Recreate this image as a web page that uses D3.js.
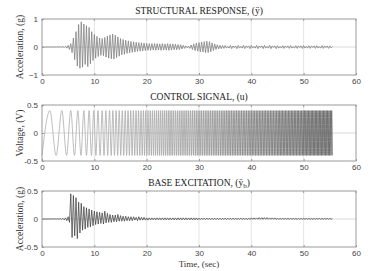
<!DOCTYPE html>
<html>
<head>
<meta charset="utf-8">
<script src="https://cdnjs.cloudflare.com/ajax/libs/d3/7.8.5/d3.min.js"></script>
<style>
  html, body { margin: 0; padding: 0; background: #fff; }
  svg { display: block; }
</style>
</head>
<body>
<svg id="chart" width="381" height="271"></svg>
<script>
"use strict";

// x axis (seconds)
var timeTicks = [0, 10, 20, 30, 40, 50, 60];

// STRUCTURAL RESPONSE: acceleration extrema (g), one value every 0.25 s from t = 0
var respDt = 0.25;
var respAcc = [
  0, 0, 0, 0,
  0, 0, 0, 0,
  0, 0, 0, 0,
  0.005, -0.005, 0.01, -0.01,
  0.015, -0.02, 0.03, -0.04,
  0.06, -0.09, 0.12, -0.2,
  0.32, -0.45, 0.55, -0.68,
  0.8, -0.76, 0.9, -0.72,
  0.82, -0.62, 0.76, -0.7,
  0.7, -0.6, 0.55, -0.48,
  0.45, -0.4, 0.38, -0.34,
  0.32, -0.3, 0.3, -0.31,
  0.34, -0.36, 0.39, -0.4,
  0.43, -0.42, 0.46, -0.43,
  0.42, -0.38, 0.36, -0.33,
  0.3, -0.28, 0.27, -0.26,
  0.24, -0.23, 0.22, -0.21,
  0.2, -0.19, 0.18, -0.18,
  0.17, -0.16, 0.16, -0.15,
  0.15, -0.14, 0.14, -0.13,
  0.13, -0.12, 0.12, -0.12,
  0.12, -0.11, 0.12, -0.12,
  0.12, -0.11, 0.11, -0.12,
  0.12, -0.11, 0.11, -0.11,
  0.12, -0.12, 0.11, -0.11,
  0.11, -0.1, 0.1, -0.1,
  0.09, -0.09, 0.08, -0.07,
  0.06, -0.05, 0.04, -0.03,
  0.03, -0.05, 0.07, -0.09,
  0.11, -0.13, 0.14, -0.15,
  0.16, -0.17, 0.18, -0.18,
  0.19, -0.2, 0.21, -0.2,
  0.19, -0.17, 0.15, -0.13,
  0.11, -0.09, 0.08, -0.07,
  0.06, -0.06, 0.05, -0.05,
  0.06, -0.04, 0.02, -0.04,
  0.06, -0.06, 0.04, -0.02,
  0.04, -0.06, 0.06, -0.04,
  0.02, -0.04, 0.06, -0.06,
  0.04, -0.02, 0.04, -0.06,
  0.06, -0.04, 0.02, -0.04,
  0.06, -0.06, 0.04, -0.02,
  0.04, -0.06, 0.06, -0.04,
  0.02, -0.04, 0.06, -0.06,
  0.04, -0.02, 0.04, -0.06,
  0.05, -0.04, 0.02, -0.04,
  0.05, -0.05, 0.04, -0.02,
  0.04, -0.05, 0.05, -0.04,
  0.02, -0.04, 0.05, -0.05,
  0.04, -0.02, 0.04, -0.05,
  0.05, -0.04, 0.02, -0.04,
  0.05, -0.05, 0.04, -0.02,
  0.04, -0.05, 0.05, -0.04,
  0.02, -0.04, 0.05, -0.05,
  0.04, -0.02, 0.04, -0.05,
  0.04, -0.03, 0.02
];

// CONTROL SIGNAL: swept sine, times (s) of successive extrema, first one a trough
var ctrlAmp = 0.4;
var ctrlExtremaTimes = [
  0, 1.5, 2.7, 3.8, 4.7, 5.5, 6.2, 6.85, 7.45, 8.0,
  8.5, 9.0, 9.45, 9.9, 10.3, 10.7, 11.1, 11.5, 11.85, 12.2,
  12.55, 12.9, 13.22, 13.54, 13.85, 14.16, 14.46, 14.76, 15.05, 15.34,
  15.62, 15.9, 16.17, 16.44, 16.7, 16.96, 17.22, 17.47, 17.72, 17.97,
  18.21, 18.45, 18.69, 18.92, 19.15, 19.38, 19.6, 19.82, 20.04, 20.26,
  20.47, 20.68, 20.89, 21.1, 21.3, 21.5, 21.7, 21.9, 22.1, 22.29,
  22.48, 22.67, 22.86, 23.05, 23.23, 23.41, 23.59, 23.77, 23.95, 24.13,
  24.3, 24.47, 24.64, 24.81, 24.98,
  25.15, 25.33, 25.51, 25.69, 25.87, 26.05, 26.23, 26.41, 26.59, 26.77,
  26.95, 27.13, 27.31, 27.49, 27.67, 27.85, 28.03, 28.21, 28.39, 28.57,
  28.75, 28.93, 29.11, 29.29, 29.47, 29.65, 29.83,
  30.0, 30.17, 30.34, 30.51, 30.68, 30.85, 31.02, 31.19, 31.36, 31.53,
  31.7, 31.87, 32.04, 32.21, 32.38, 32.55, 32.72, 32.89, 33.06, 33.23,
  33.4, 33.57, 33.74, 33.91, 34.08, 34.25, 34.42, 34.59, 34.76, 34.93,
  35.09, 35.25, 35.41, 35.57, 35.73, 35.89, 36.05, 36.21, 36.37, 36.53,
  36.69, 36.85, 37.01, 37.17, 37.33, 37.49, 37.65, 37.81, 37.97, 38.13,
  38.29, 38.45, 38.61, 38.77, 38.93, 39.09, 39.25, 39.41, 39.57, 39.73, 39.89,
  40.04, 40.19, 40.34, 40.49, 40.64, 40.79, 40.94, 41.09, 41.24, 41.39,
  41.54, 41.69, 41.84, 41.99, 42.14, 42.29, 42.44, 42.59, 42.74, 42.89,
  43.04, 43.19, 43.34, 43.49, 43.64, 43.79, 43.94, 44.09, 44.24, 44.39,
  44.54, 44.69, 44.84, 44.99,
  45.13, 45.27, 45.41, 45.55, 45.69, 45.83, 45.97, 46.11, 46.25, 46.39,
  46.53, 46.67, 46.81, 46.95, 47.09, 47.23, 47.37, 47.51, 47.65, 47.79,
  47.93, 48.07, 48.21, 48.35, 48.49, 48.63, 48.77, 48.91, 49.05, 49.19,
  49.33, 49.47, 49.61, 49.75, 49.89,
  50.02, 50.15, 50.28, 50.41, 50.54, 50.67, 50.8, 50.93, 51.06, 51.19,
  51.32, 51.45, 51.58, 51.71, 51.84, 51.97, 52.1, 52.23, 52.36, 52.49,
  52.62, 52.75, 52.88, 53.01, 53.14, 53.27, 53.4, 53.53, 53.66, 53.79,
  53.92, 54.05, 54.18, 54.31, 54.44, 54.57, 54.7, 54.83, 54.96, 55.09,
  55.22, 55.35, 55.48
];

// BASE EXCITATION: acceleration extrema (g), one value every 0.25 s from t = 0
var baseDt = 0.25;
var baseAcc = [
  0, 0, 0, 0,
  0, 0, 0, 0,
  0.002, -0.002, 0.003, -0.003,
  0.005, -0.006, 0.008, -0.01,
  0.012, -0.015, 0.02, -0.03,
  0.04, -0.06, 0.45, -0.33,
  0.42, -0.3, 0.38, -0.35,
  0.3, -0.25, 0.28, -0.2,
  0.22, -0.18, 0.2, -0.15,
  0.18, -0.14, 0.16, -0.12,
  0.14, -0.1, 0.13, -0.09,
  0.12, -0.08, 0.11, -0.09,
  0.14, -0.07, 0.1, -0.06,
  0.08, -0.06, 0.07, -0.05,
  0.07, -0.05, 0.08, -0.04,
  0.06, -0.04, 0.05, -0.04,
  0.05, -0.03, 0.04, -0.03,
  0.04, -0.03, 0.04, -0.02,
  0.03, -0.03, 0.04, -0.02,
  0.03, -0.02, 0.03, -0.02,
  0.02, -0.02, 0.02, -0.015,
  0.02, -0.015, 0.02, -0.015,
  0.02, -0.015, 0.02, -0.015,
  0.02, -0.015, 0.02, -0.015,
  0.02, -0.015, 0.02, -0.015,
  0.02, -0.015, 0.02, -0.015,
  0.02, -0.015, 0.02, -0.015,
  0.02, -0.015, 0.02, -0.015,
  0.02, -0.015, 0.02, -0.015,
  0.02, -0.015, 0.02, -0.015,
  0.015, -0.01, 0.015, -0.01,
  0.015, -0.01, 0.015, -0.01,
  0.015, -0.01, 0.015, -0.01,
  0.015, -0.01, 0.015, -0.01,
  0.015, -0.01, 0.015, -0.01,
  0.015, -0.01, 0.015, -0.01,
  0.015, -0.01, 0.015, -0.01,
  0.015, -0.01, 0.015, -0.01,
  0.015, -0.01, 0.015, -0.01,
  0.015, -0.01, 0.015, -0.01,
  0.02, -0.005, 0.02, -0.005,
  0.02, -0.005, 0.025, -0.005,
  0.025, -0.005, 0.025, -0.005,
  0.025, -0.005, 0.02, -0.005,
  0.02, -0.005, 0.02, -0.005,
  0.01, -0.005, 0.01, -0.005,
  0.01, -0.005, 0.01, -0.005,
  0.01, -0.005, 0.01, -0.005,
  0.01, -0.005, 0.01, -0.005,
  0.01, -0.005, 0.01, -0.005,
  0.01, -0.005, 0.01, -0.005,
  0.01, -0.005, 0.01, -0.005,
  0.01, -0.005, 0.01, -0.005,
  0.01, -0.005, 0.01, -0.005,
  0.01, -0.005, 0.01, -0.005,
  0.01, -0.005, 0.01
];

var respTicks = [-1, 0, 1];
var halfTicks = [-0.5, 0, 0.5];

var respPoints = respAcc.map(function (v, i) { return [i * respDt, v]; });
var basePoints = baseAcc.map(function (v, i) { return [i * baseDt, v]; });
var ctrlPoints = ctrlExtremaTimes.map(function (t, i) {
  return [t, i % 2 === 0 ? -ctrlAmp : ctrlAmp];
});

var serif = "'Liberation Serif', 'Times New Roman', serif";
var sans = "'Liberation Sans', Arial, sans-serif";

var left = 42, right = 356, panelH = 56;

var x = d3.scaleLinear()
    .domain([0, 60])
    .range([left, right]);

var svg = d3.select('#chart');

var halfFmt = function (d) { return d === 0 ? '0' : String(d); };

var panels = [
  { top: 19, domain: [-1, 1], ticks: respTicks, fmt: d3.format('d'),
    data: respPoints, color: '#7c7c7c', curve: d3.curveLinear,
    title: ['STRUCTURAL RESPONSE, (ÿ)'], ylabel: 'Acceleration, (g)' },
  { top: 105, domain: [-0.5, 0.5], ticks: halfTicks, fmt: halfFmt,
    data: ctrlPoints, color: 'url(#ctrlGrad)', curve: d3.curveMonotoneX,
    title: ['CONTROL SIGNAL, (u)'], ylabel: 'Voltage, (V)' },
  { top: 191, domain: [-0.5, 0.5], ticks: halfTicks, fmt: halfFmt,
    data: basePoints, color: '#404040', curve: d3.curveLinear,
    title: ['BASE EXCITATION, (ÿ', 'b', ')'], ylabel: 'Acceleration, (g)' }
];

// control signal gets darker as the sweep gets denser
var grad = svg.append('defs')
    .append('linearGradient')
    .attr('id', 'ctrlGrad')
    .attr('gradientUnits', 'userSpaceOnUse')
    .attr('x1', x(0)).attr('x2', x(56))
    .attr('y1', 0).attr('y2', 0);
[[0, '#a8a8a8'], [0.45, '#a0a0a0'], [0.7, '#7a7a7a'], [1, '#555']].forEach(function (s) {
  grad.append('stop').attr('offset', s[0]).attr('stop-color', s[1]);
});

panels.forEach(function (p) {
  var y = d3.scaleLinear()
      .domain(p.domain)
      .range([p.top + panelH, p.top]);

  var g = svg.append('g');

  // grid
  g.selectAll('line.vgrid')
      .data(timeTicks.slice(1, -1))
      .enter()
      .append('line')
      .attr('x1', function (d) { return x(d); })
      .attr('x2', function (d) { return x(d); })
      .attr('y1', p.top)
      .attr('y2', p.top + panelH)
      .attr('stroke', '#dcdcdc')
      .attr('stroke-width', 0.8);

  g.append('line')
      .attr('x1', left).attr('x2', right)
      .attr('y1', y(0)).attr('y2', y(0))
      .attr('stroke', '#d0d0d0')
      .attr('stroke-width', 0.8);

  // signal
  var line = d3.line()
      .x(function (d) { return x(d[0]); })
      .y(function (d) { return y(d[1]); })
      .curve(p.curve);

  g.append('path')
      .datum(p.data)
      .attr('d', line)
      .attr('fill', 'none')
      .attr('stroke', p.color)
      .attr('stroke-width', 0.75);

  // axes
  var xAxis = d3.axisBottom(x)
      .tickValues(timeTicks)
      .tickSizeInner(-2)
      .tickSizeOuter(0)
      .tickPadding(3)
      .tickFormat(d3.format('d'));

  var yAxis = d3.axisLeft(y)
      .tickValues(p.ticks)
      .tickSizeInner(-2)
      .tickSizeOuter(0)
      .tickPadding(4)
      .tickFormat(p.fmt);

  var xa = g.append('g')
      .attr('transform', 'translate(0,' + (p.top + panelH) + ')')
      .call(xAxis);
  var ya = g.append('g')
      .attr('transform', 'translate(' + left + ',0)')
      .call(yAxis);

  [xa, ya].forEach(function (a) {
    a.select('.domain').remove();
    a.selectAll('line').attr('stroke', '#999');
    a.selectAll('text')
        .attr('fill', '#444')
        .style('font-family', sans)
        .style('font-size', '8px');
  });

  // top ticks
  g.selectAll('line.ttick')
      .data(timeTicks)
      .enter()
      .append('line')
      .attr('x1', function (d) { return x(d); })
      .attr('x2', function (d) { return x(d); })
      .attr('y1', p.top)
      .attr('y2', p.top + 2)
      .attr('stroke', '#999');

  // frame
  g.append('rect')
      .attr('x', left)
      .attr('y', p.top)
      .attr('width', right - left)
      .attr('height', panelH)
      .attr('fill', 'none')
      .attr('stroke', '#9a9a9a')
      .attr('stroke-width', 1);

  // title
  var t = g.append('text')
      .attr('x', (left + right) / 2)
      .attr('y', p.top - 5)
      .attr('text-anchor', 'middle')
      .attr('fill', '#222')
      .style('font-family', serif)
      .style('font-size', '9.5px');
  t.append('tspan').text(p.title[0]);
  if (p.title.length > 1) {
    t.append('tspan')
        .attr('dy', 2)
        .style('font-size', '7px')
        .text(p.title[1]);
    t.append('tspan')
        .attr('dy', -2)
        .text(p.title[2]);
  }

  // y label
  g.append('text')
      .attr('transform', 'translate(23,' + (p.top + panelH / 2) + ') rotate(-90)')
      .attr('text-anchor', 'middle')
      .attr('fill', '#333')
      .style('font-family', serif)
      .style('font-size', '9.5px')
      .text(p.ylabel);
});

svg.append('text')
    .attr('x', (left + right) / 2)
    .attr('y', 266.5)
    .attr('text-anchor', 'middle')
    .attr('fill', '#333')
    .style('font-family', serif)
    .style('font-size', '9px')
    .text('Time, (sec)');
</script>
</body>
</html>
